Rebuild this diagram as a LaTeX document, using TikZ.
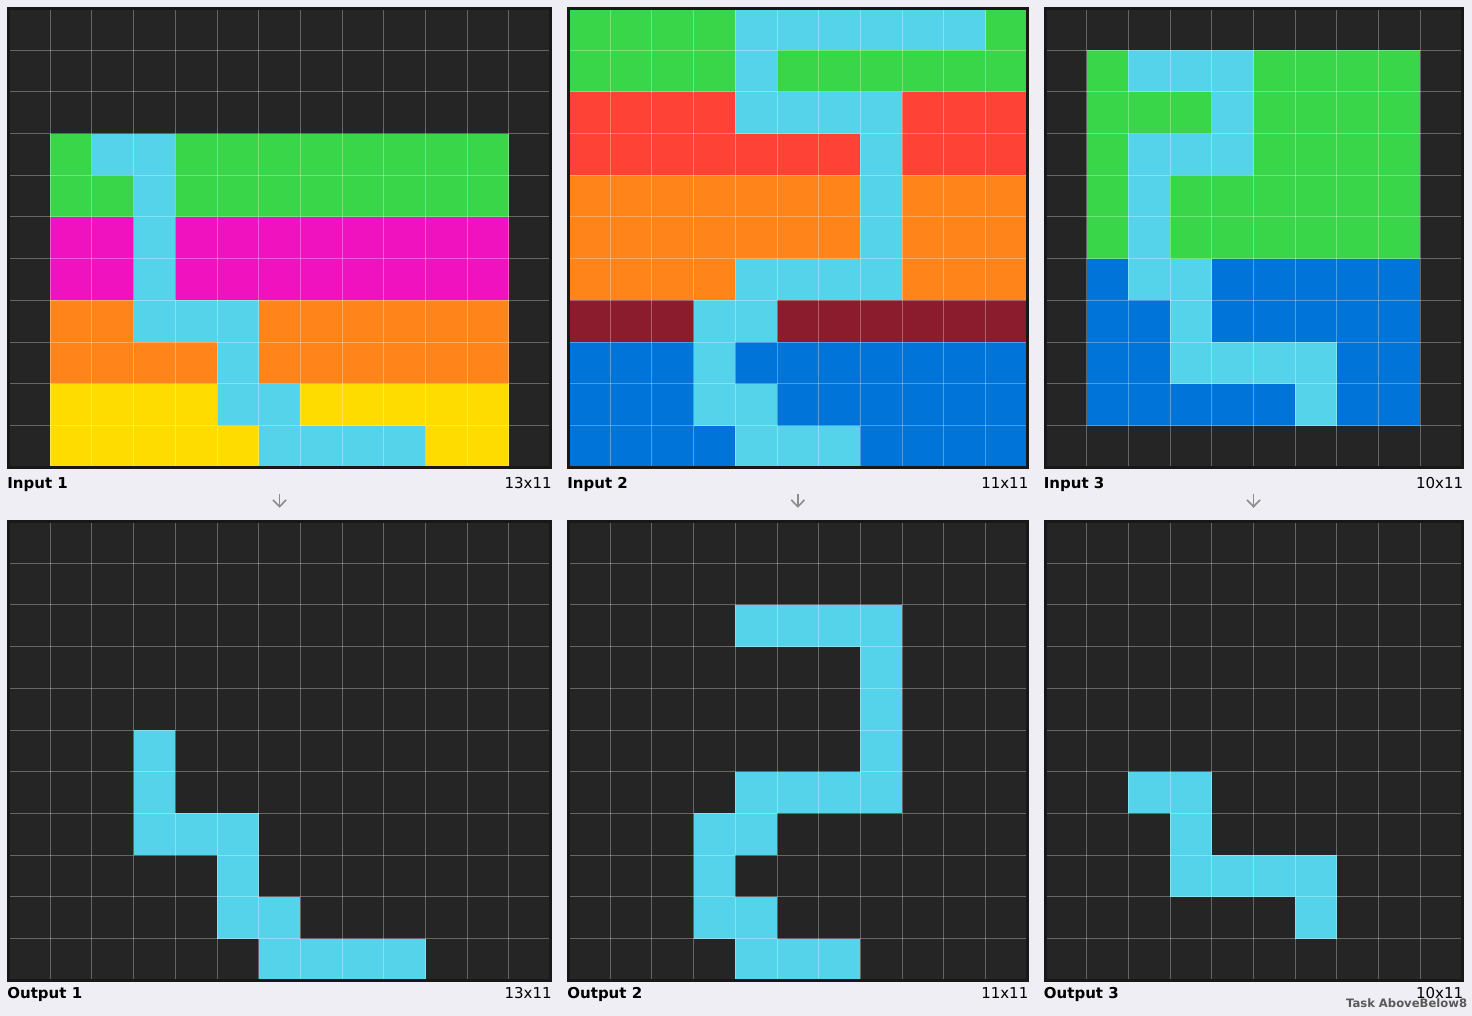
\documentclass[tikz,border=0pt]{standalone}
\usepackage{fontspec}
\setmainfont{DejaVu Sans}
\usetikzlibrary{positioning, fit, calc, arrows.meta}
\definecolor{pagebg}{HTML}{EEEEF4}
\definecolor{framedark}{HTML}{181818}
\definecolor{arc0}{HTML}{252525}
\definecolor{arc1}{HTML}{0074D9}
\definecolor{arc2}{HTML}{FF4136}
\definecolor{arc3}{HTML}{3AD64A}
\definecolor{arc4}{HTML}{FFDC00}
\definecolor{arc6}{HTML}{F012BE}
\definecolor{arc7}{HTML}{FF851B}
\definecolor{arc8}{HTML}{55D3EA}
\definecolor{arc9}{HTML}{8B1C2E}

\newcommand\cellsz{41.7}
% name, left, top, columns, rows, cell values row by row
\newcommand\arcgrid[6]{%
  \foreach \cells [count=\ri from 0] in {#6} {
    \foreach \cl [count=\ci from 0] in \cells
      \fill[fill=arc\cl] ({#2+\ci*\cellsz},{#3+\ri*\cellsz}) rectangle ++(\cellsz,\cellsz);
  }
  \pgfmathtruncatemacro\lastcol{#4-1}
  \pgfmathtruncatemacro\lastrow{#5-1}
  \foreach \ci in {1,...,\lastcol}
    \draw[cellline] ({#2+\ci*\cellsz},#3) -- ++(0,{#5*\cellsz});
  \foreach \ri in {1,...,\lastrow}
    \draw[cellline] (#2,{#3+\ri*\cellsz}) -- ++({#4*\cellsz},0);
  \node[gridframe, fit={(#2,#3) ({#2+#4*\cellsz},{#3+#5*\cellsz})}] (#1) {};
}

\begin{document}
\begin{tikzpicture}[
  x=0.5pt, y=-0.5pt,
  cellline/.style={draw=white, draw opacity=0.3, line width=0.5pt},
  gridframe/.style={draw=framedark, line width=1.5pt, inner sep=0pt},
  gridtitle/.style={font=\fontsize{7.5}{9}\selectfont\bfseries, inner sep=0pt, anchor=base west},
  gridsize/.style={font=\fontsize{7.5}{9}\selectfont, inner sep=0pt, anchor=base east},
  flowarrow/.style={-{Straight Barb[length=3.4pt, width=6.6pt]}, draw=gray!90!white, line width=0.8pt,
    shorten <=12.4pt, shorten >=6.1pt},
  taskname/.style={font=\fontsize{5.8}{7}\selectfont\bfseries, text=black!65, inner sep=0pt, anchor=base east},
]
\fill[pagebg] (0,0) rectangle (1472,1016);
\useasboundingbox (0,0) rectangle (1472,1016);

\arcgrid{in1}{8.5}{8.5}{13}{11}{
  {0,0,0,0,0,0,0,0,0,0,0,0,0},
  {0,0,0,0,0,0,0,0,0,0,0,0,0},
  {0,0,0,0,0,0,0,0,0,0,0,0,0},
  {0,3,8,8,3,3,3,3,3,3,3,3,0},
  {0,3,3,8,3,3,3,3,3,3,3,3,0},
  {0,6,6,8,6,6,6,6,6,6,6,6,0},
  {0,6,6,8,6,6,6,6,6,6,6,6,0},
  {0,7,7,8,8,8,7,7,7,7,7,7,0},
  {0,7,7,7,7,8,7,7,7,7,7,7,0},
  {0,4,4,4,4,8,8,4,4,4,4,4,0},
  {0,4,4,4,4,4,8,8,8,8,4,4,0}}
\arcgrid{out1}{8.5}{521.5}{13}{11}{
  {0,0,0,0,0,0,0,0,0,0,0,0,0},
  {0,0,0,0,0,0,0,0,0,0,0,0,0},
  {0,0,0,0,0,0,0,0,0,0,0,0,0},
  {0,0,0,0,0,0,0,0,0,0,0,0,0},
  {0,0,0,0,0,0,0,0,0,0,0,0,0},
  {0,0,0,8,0,0,0,0,0,0,0,0,0},
  {0,0,0,8,0,0,0,0,0,0,0,0,0},
  {0,0,0,8,8,8,0,0,0,0,0,0,0},
  {0,0,0,0,0,8,0,0,0,0,0,0,0},
  {0,0,0,0,0,8,8,0,0,0,0,0,0},
  {0,0,0,0,0,0,8,8,8,8,0,0,0}}

\arcgrid{in2}{568.5}{8.5}{11}{11}{
  {3,3,3,3,8,8,8,8,8,8,3},
  {3,3,3,3,8,3,3,3,3,3,3},
  {2,2,2,2,8,8,8,8,2,2,2},
  {2,2,2,2,2,2,2,8,2,2,2},
  {7,7,7,7,7,7,7,8,7,7,7},
  {7,7,7,7,7,7,7,8,7,7,7},
  {7,7,7,7,8,8,8,8,7,7,7},
  {9,9,9,8,8,9,9,9,9,9,9},
  {1,1,1,8,1,1,1,1,1,1,1},
  {1,1,1,8,8,1,1,1,1,1,1},
  {1,1,1,1,8,8,8,1,1,1,1}}
\arcgrid{out2}{568.5}{521.5}{11}{11}{
  {0,0,0,0,0,0,0,0,0,0,0},
  {0,0,0,0,0,0,0,0,0,0,0},
  {0,0,0,0,8,8,8,8,0,0,0},
  {0,0,0,0,0,0,0,8,0,0,0},
  {0,0,0,0,0,0,0,8,0,0,0},
  {0,0,0,0,0,0,0,8,0,0,0},
  {0,0,0,0,8,8,8,8,0,0,0},
  {0,0,0,8,8,0,0,0,0,0,0},
  {0,0,0,8,0,0,0,0,0,0,0},
  {0,0,0,8,8,0,0,0,0,0,0},
  {0,0,0,0,8,8,8,0,0,0,0}}

\arcgrid{in3}{1045}{8.5}{10}{11}{
  {0,0,0,0,0,0,0,0,0,0},
  {0,3,8,8,8,3,3,3,3,0},
  {0,3,3,3,8,3,3,3,3,0},
  {0,3,8,8,8,3,3,3,3,0},
  {0,3,8,3,3,3,3,3,3,0},
  {0,3,8,3,3,3,3,3,3,0},
  {0,1,8,8,1,1,1,1,1,0},
  {0,1,1,8,1,1,1,1,1,0},
  {0,1,1,8,8,8,8,1,1,0},
  {0,1,1,1,1,1,8,1,1,0},
  {0,0,0,0,0,0,0,0,0,0}}
\arcgrid{out3}{1045}{521.5}{10}{11}{
  {0,0,0,0,0,0,0,0,0,0},
  {0,0,0,0,0,0,0,0,0,0},
  {0,0,0,0,0,0,0,0,0,0},
  {0,0,0,0,0,0,0,0,0,0},
  {0,0,0,0,0,0,0,0,0,0},
  {0,0,0,0,0,0,0,0,0,0},
  {0,0,8,8,0,0,0,0,0,0},
  {0,0,0,8,0,0,0,0,0,0},
  {0,0,0,8,8,8,8,0,0,0},
  {0,0,0,0,0,0,8,0,0,0},
  {0,0,0,0,0,0,0,0,0,0}}

\node[gridtitle] (in1-title) at ([yshift=-9.75pt]in1.south west) {Input 1};
\node[gridsize] (in1-size) at ([yshift=-9.75pt]in1.south east) {13x11};
\node[gridtitle] (in2-title) at ([yshift=-9.75pt]in2.south west) {Input 2};
\node[gridsize] (in2-size) at ([yshift=-9.75pt]in2.south east) {11x11};
\node[gridtitle] (in3-title) at ([yshift=-9.75pt]in3.south west) {Input 3};
\node[gridsize] (in3-size) at ([yshift=-9.75pt]in3.south east) {10x11};

\node[gridtitle] (out1-title) at ([yshift=-8.5pt]out1.south west) {Output 1};
\node[gridsize] (out1-size) at ([yshift=-8.5pt]out1.south east) {13x11};
\node[gridtitle] (out2-title) at ([yshift=-8.5pt]out2.south west) {Output 2};
\node[gridsize] (out2-size) at ([yshift=-8.5pt]out2.south east) {11x11};
\node[gridtitle] (out3-title) at ([yshift=-8.5pt]out3.south west) {Output 3};
\node[gridsize] (out3-size) at ([yshift=-8.5pt]out3.south east) {10x11};

\draw[flowarrow] (in1) -- (out1);
\draw[flowarrow] (in2) -- (out2);
\draw[flowarrow] (in3) -- (out3);

\node[taskname] (task) at (1467.5,1007.3) {Task AboveBelow8};

\end{tikzpicture}
\end{document}
